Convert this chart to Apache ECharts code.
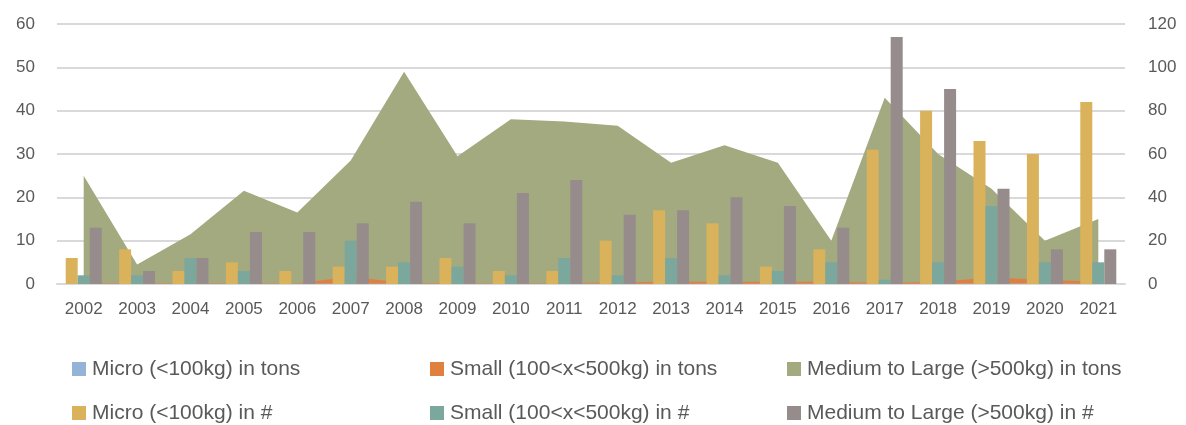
<!DOCTYPE html>
<html>
<head>
<meta charset="utf-8">
<script src="https://cdn.jsdelivr.net/npm/echarts@6/dist/echarts.min.js"></script>
<style>
  html, body { margin: 0; padding: 0; background: #fff; }
  #main { width: 1186px; height: 425px; }
</style>
</head>
<body>
<div id="main"></div>
<script>
var years = ['2002', '2003', '2004', '2005', '2006', '2007', '2008', '2009', '2010', '2011',
	'2012', '2013', '2014', '2015', '2016', '2017', '2018', '2019', '2020', '2021'];

// tons (right axis, areas)
var microTons = [0.1, 0.1, 0.1, 0.1, 0.1, 0.2, 0.1, 0.1, 0.1, 0.1,
	0.1, 0.1, 0.1, 0.1, 0.1, 0.1, 0.1, 0.2, 0.2, 0.1];
var smallTons = [0.3, 0.3, 0.3, 0.3, 0.2, 3.5, 0.5, 0.3, 0.2, 0.3,
	0.8, 1, 1, 1, 1, 0.5, 1, 3, 2, 1];
var largeTons = [50, 9, 23, 43, 33, 57, 98, 59, 76, 75,
	73, 56, 64, 56, 20, 86, 60, 44, 20, 30];

// counts (left axis, bars)
var microNum = [6, 8, 3, 5, 3, 4, 4, 6, 3, 3, 10, 17, 14, 4, 8, 31, 40, 33, 30, 42];
var smallNum = [2, 2, 6, 3, 0, 10, 5, 4, 2, 6, 2, 6, 2, 3, 5, 1, 5, 18, 5, 5];
var largeNum = [13, 3, 6, 12, 12, 14, 19, 14, 21, 24, 16, 17, 20, 18, 13, 57, 45, 22, 8, 8];

var leftTicks = [0, 60, 10];
var rightTicks = [0, 120, 20];

var myChart = echarts.init(document.getElementById('main'));

var txt = '#595959';
var font = 'Liberation Sans';

function areaSeries(name, data, color, z) {
	return {
		name: name,
		type: 'line',
		yAxisIndex: 1,
		data: data,
		symbol: 'none',
		z: z,
		lineStyle: { width: 0 },
		itemStyle: { color: color },
		areaStyle: { color: color, opacity: 1 }
	};
}

function barSeries(name, data, color) {
	return {
		name: name,
		type: 'bar',
		yAxisIndex: 0,
		data: data,
		barWidth: 12,
		barGap: '0%',
		z: 5,
		itemStyle: { color: color }
	};
}

// one legend per entry so the columns line up like the original
function legendAt(name, left, top) {
	return {
		data: [name],
		left: left,
		top: top,
		padding: 0,
		itemWidth: 14,
		itemHeight: 14,
		icon: 'rect',
		textStyle: { color: txt, fontSize: 21, lineHeight: 22, fontFamily: font, padding: [0, 0, 0, 1] }
	};
}

myChart.setOption({
	backgroundColor: '#fff',
	animation: false,
	legend: [
		legendAt('Micro (<100kg) in tons', 72, 358),
		legendAt('Small (100<x<500kg) in tons', 430, 358),
		legendAt('Medium to Large (>500kg) in tons', 787, 358),
		legendAt('Micro (<100kg) in #', 72, 402),
		legendAt('Small (100<x<500kg) in #', 430, 402),
		legendAt('Medium to Large (>500kg) in #', 787, 402)
	],
	grid: {
		left: 57,
		right: 61,
		top: 24,
		bottom: 141
	},
	xAxis: {
		type: 'category',
		data: years,
		boundaryGap: true,
		axisLine: { lineStyle: { color: '#d9d9d9', width: 2 } },
		axisTick: { show: false },
		axisLabel: { interval: 0, color: txt, fontSize: 17, fontFamily: font, margin: 17 }
	},
	yAxis: [
		{
			type: 'value',
			min: leftTicks[0],
			max: leftTicks[1],
			interval: leftTicks[2],
			axisLine: { show: false },
			axisTick: { show: false },
			axisLabel: { color: txt, fontSize: 17, fontFamily: font, margin: 22 },
			splitLine: { lineStyle: { color: '#d9d9d9', width: 2 } }
		},
		{
			type: 'value',
			min: rightTicks[0],
			max: rightTicks[1],
			interval: rightTicks[2],
			position: 'right',
			axisLine: { show: false },
			axisTick: { show: false },
			axisLabel: { color: txt, fontSize: 17, fontFamily: font, margin: 23 },
			splitLine: { show: false }
		}
	],
	series: [
		areaSeries('Micro (<100kg) in tons', microTons, '#95b3d7', 3),
		areaSeries('Small (100<x<500kg) in tons', smallTons, '#e0803f', 2),
		areaSeries('Medium to Large (>500kg) in tons', largeTons, '#a3aa7f', 1),
		barSeries('Micro (<100kg) in #', microNum, '#d9b25b'),
		barSeries('Small (100<x<500kg) in #', smallNum, '#7ba79d'),
		barSeries('Medium to Large (>500kg) in #', largeNum, '#968c8b')
	]
});
</script>
</body>
</html>
